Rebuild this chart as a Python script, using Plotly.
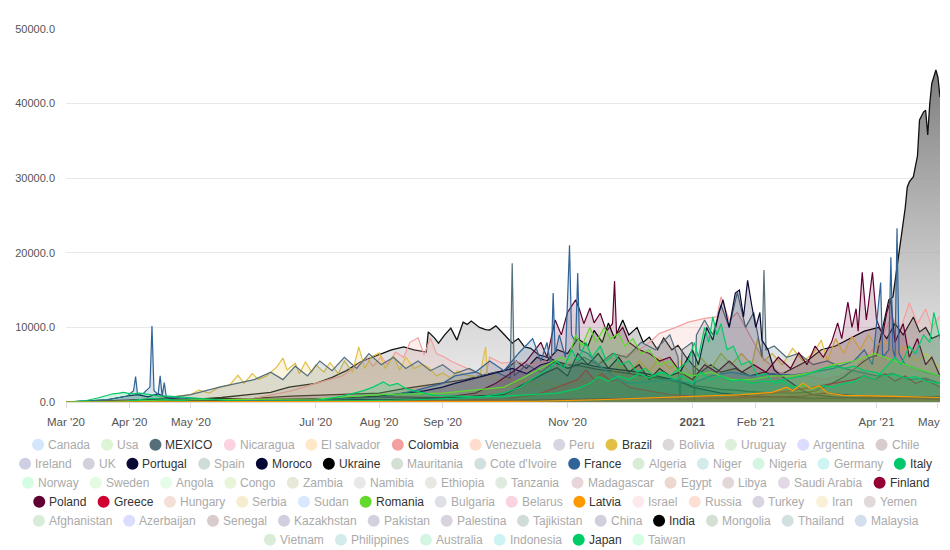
import plotly.graph_objects as go
import pandas as pd

START = pd.Timestamp("2020-03-01")

# ---- data: (day offset from 2020-03-01, daily value) ----
india = [(0,0),(15,20),(30,80),(45,200),(61,300),(76,600),(92,1000),(100,1300),(109,2000),(116,2300),(122,2500),(130,3300),(137,4200),(144,5400),(150,6000),(155,6500),(159,7000),(165,7400),(170,7000),(176,6700),(177,9400),(180,8600),(182,7900),(185,9000),(188,9900),(191,8300),(194,10700),(196,10400),(198,10850),(202,10000),(205,9700),(207,9650),(210,10200),(212,9650),(215,8700),(218,7900),(221,8500),(224,7400),(227,7200),(231,6300),(235,6000),(240,5400),(245,5000),(252,4800),(259,4400),(266,4200),(273,3900),(280,3600),(287,3300),(294,3000),(300,2600),(306,2200),(313,2000),(320,1700),(327,1600),(334,1400),(341,1300),(348,1200),(355,1200),(362,1300),(366,1500),(370,2000),(375,2600),(380,3350),(383,4000),(386,4700),(390,5500),(393,6000),(396,6200),(398,8700),(400,11400),(402,13700),(404,14100),(406,18100),(407,20400),(409,24400),(410,26000),(411,28800),(412,29500),(414,30200),(416,33000),(417,37800),(419,38900),(420,39100),(421,35800),(422,40000),(423,42700),(425,44500),(426,43500),(427,40900)]

ukraine = [(0,0),(30,50),(61,400),(92,500),(110,800),(122,900),(140,1000),(153,1200),(165,1800),(175,2200),(184,2500),(195,3000),(205,3700),(214,4200),(220,5500),(225,4500),(230,6000),(235,5500),(240,7000),(245,6500),(250,8500),(255,7500),(258,9600),(262,8000),(265,10600),(268,8500),(272,11000),(275,9000),(279,10000),(282,8000),(285,8700),(289,7000),(292,8600),(296,7000),(299,7600),(303,6000),(306,5000),(310,4000),(315,5000),(320,4000),(327,4500),(334,3500),(341,4000),(348,3500),(355,4500),(362,5500),(369,7000),(376,7500),(383,8500),(390,9500),(397,10000),(401,8500),(405,10500),(409,9000),(414,11400),(417,9400),(420,10000),(423,8500),(427,9000)]

colombia = [(0,0),(61,100),(92,500),(110,1500),(122,2500),(135,3500),(140,4500),(147,5900),(150,4800),(154,6100),(157,5000),(161,6700),(165,6000),(168,8000),(172,8600),(175,6300),(178,8600),(181,6500),(185,6000),(188,5500),(192,5000),(196,4500),(200,4000),(205,3500),(207,6000),(213,5200),(220,5400),(227,5000),(234,5500),(241,4500),(248,5500),(255,5000),(262,5500),(269,6000),(276,6500),(283,7500),(290,9200),(297,9900),(304,10700),(312,11200),(318,11400),(320,14100),(324,11000),(328,12000),(334,9000),(340,6000),(348,4000),(355,3500),(362,3500),(370,3000),(378,3500),(385,4500),(392,6500),(398,8000),(403,11400),(408,10000),(412,13300),(416,10500),(420,12500),(423,10000),(427,11500)]

brazil = [(0,0),(30,200),(45,500),(55,800),(61,1000),(65,1600),(70,1200),(75,2000),(80,2300),(84,3600),(87,2500),(91,3800),(94,3000),(98,3500),(103,4700),(106,5900),(108,4300),(112,5200),(114,3800),(117,5400),(120,4000),(122,5000),(126,4000),(129,5300),(133,3800),(136,5500),(140,4000),(143,7400),(146,4500),(149,6000),(153,6600),(156,4500),(160,6200),(163,4300),(166,6000),(170,4500),(174,5000),(177,4700),(181,3500),(184,3900),(188,3200),(191,4200),(195,3600),(198,3500),(202,3300),(205,7400),(206,3000),(209,3600),(212,2800),(216,3200),(220,2600),(225,3000),(230,2200),(235,2800),(240,2000),(245,2500),(250,3000),(255,2200),(260,4000),(265,3200),(270,5000),(275,4000),(280,5500),(285,4200),(290,6000),(295,4500),(300,5500),(306,3500),(310,6000),(315,4500),(320,6500),(325,5000),(330,6500),(335,5000),(338,8600),(341,5500),(345,6500),(350,5000),(355,7200),(360,5500),(365,6500),(369,8300),(372,5500),(376,8500),(380,6500),(384,8800),(388,7000),(392,9000),(396,7500),(400,8200),(405,6500),(410,7500),(415,5500),(420,6500),(427,4500)]

mexico = [(0,0),(31,100),(45,400),(61,1000),(75,2000),(92,3000),(100,4000),(106,3000),(112,4800),(118,3500),(124,5500),(130,4200),(136,6000),(142,4500),(148,6500),(154,5000),(160,6000),(166,4500),(172,5500),(178,4200),(184,5000),(190,3800),(197,4500),(204,3500),(210,4000),(217,3200),(218,18600),(219,3500),(225,5000),(232,4000),(239,5500),(246,4500),(253,6000),(260,5000),(267,6500),(274,6000),(281,8000),(288,7000),(295,9000),(299,6000),(300,0),(301,7000),(306,8000),(307,0),(308,9000),(312,11000),(316,9000),(320,13000),(324,10000),(328,14700),(332,10000),(336,12000),(340,6000),(341,17700),(342,7000),(346,7500),(352,6000),(358,6500),(365,5000),(372,5500),(380,4500),(388,4000),(396,3500),(404,3800),(412,3000),(420,3200),(427,2500)]

moroco = [(0,0),(61,100),(122,300),(153,800),(165,1200),(175,1500),(184,2000),(190,2500),(200,3200),(210,3900),(218,4500),(225,3800),(232,5000),(238,5400),(245,4500),(252,5200),(258,4800),(265,4500),(272,4300),(280,4000),(290,3400),(300,2800),(306,2000),(320,1200),(335,800),(350,600),(365,500),(400,600),(427,700)]

portugal = [(0,0),(20,300),(30,800),(35,1000),(40,700),(45,1100),(50,500),(61,300),(92,300),(122,400),(153,300),(184,500),(200,800),(214,1000),(221,2000),(228,3000),(235,4000),(240,4600),(245,3500),(250,6500),(255,5000),(260,6500),(265,4500),(270,6000),(275,4000),(280,5000),(285,3000),(290,4500),(295,3500),(300,4000),(306,7000),(309,5000),(313,10000),(316,8300),(319,12000),(321,13700),(324,10000),(327,14600),(329,15000),(331,11400),(333,16300),(335,13000),(337,10000),(339,12000),(340,8300),(343,7000),(346,4300),(350,3400),(355,2500),(360,1500),(365,1000),(375,700),(390,500),(410,500),(427,400)]

poland = [(0,0),(30,200),(45,400),(61,300),(92,400),(122,400),(153,700),(184,600),(200,1200),(210,2500),(218,4000),(225,5500),(232,8000),(235,6000),(239,11000),(242,9000),(245,12000),(247,12800),(249,13700),(251,12300),(253,10500),(256,12600),(258,10600),(261,11900),(264,9500),(267,10500),(268,16200),(269,9000),(272,10000),(275,8000),(280,7000),(285,6500),(290,5500),(295,6000),(300,4000),(306,3000),(312,5000),(318,4000),(324,5500),(330,4000),(336,5000),(342,4000),(348,6000),(354,4500),(358,6600),(362,5000),(366,7500),(370,6000),(374,8000),(377,10600),(379,8500),(382,13400),(384,10000),(386,12500),(387,9500),(389,17400),(391,11000),(392,13000),(394,17400),(396,11000),(399,9000),(401,12000),(403,13700),(405,8000),(409,10500),(412,6000),(416,8500),(420,5000),(423,6000),(427,3500)]

finland = [(0,0),(30,200),(61,100),(153,50),(214,200),(245,400),(275,500),(306,400),(340,600),(360,800),(370,1200),(380,1000),(395,700),(427,400)]

greece = [(0,0),(61,50),(153,100),(184,200),(214,400),(230,1000),(240,2000),(245,2500),(250,3000),(254,4300),(258,3000),(262,3800),(266,2800),(270,3000),(275,2000),(285,1500),(295,1000),(306,800),(320,600),(335,800),(345,1200),(355,1500),(365,2000),(375,2500),(385,3000),(390,3500),(395,3000),(400,3800),(405,2800),(410,3500),(415,2500),(420,3000),(427,2000)]

france = [(0,0),(20,300),(30,800),(33,1500),(34,3400),(35,900),(38,1200),(41,2000),(42,10200),(43,1500),(45,1000),(46,3500),(47,800),(48,2600),(49,700),(55,600),(61,400),(75,300),(92,200),(122,300),(153,600),(170,1500),(184,2500),(190,3500),(200,4000),(207,5500),(214,4200),(221,6500),(228,8500),(232,5500),(235,8000),(237,4500),(238,14600),(239,6500),(241,9000),(244,6000),(246,21000),(247,9000),(249,8000),(250,17300),(251,7000),(255,6500),(260,5000),(265,4000),(270,3000),(275,2500),(285,2800),(295,3000),(306,2500),(315,3500),(325,4000),(335,3500),(345,3800),(355,3600),(365,4000),(375,4500),(385,5500),(390,7000),(394,5000),(398,16000),(399,6000),(402,7000),(403,19400),(404,7000),(405,6000),(406,23300),(407,6500),(410,5000),(415,4500),(420,4000),(427,3500)]

romania = [(0,0),(61,300),(122,400),(153,1000),(184,1200),(214,2000),(225,3500),(235,5000),(242,6000),(245,5500),(249,9000),(252,7500),(256,10000),(259,8000),(263,10000),(266,8500),(270,9200),(273,7500),(277,8500),(281,6500),(285,7000),(290,5000),(295,5500),(300,4000),(306,3500),(315,4000),(325,3000),(335,3000),(345,3500),(355,3500),(365,4000),(375,5000),(385,5500),(395,6500),(405,5500),(415,4500),(427,3500)]

italy = [(0,0),(10,200),(15,500),(20,900),(23,1100),(26,1200),(28,1300),(30,1200),(33,1100),(36,1200),(40,1000),(43,900),(46,800),(50,800),(55,700),(61,500),(70,300),(80,200),(92,100),(122,100),(153,200),(170,300),(184,400),(200,600),(214,1200),(222,2000),(230,3500),(236,4500),(240,5500),(243,4500),(247,7000),(250,5500),(254,8000),(257,6000),(261,7500),(264,5500),(268,6500),(271,5000),(275,5500),(279,4000),(283,4500),(287,3500),(292,4000),(297,3000),(301,3500),(306,2500),(310,4000),(315,3000),(320,3500),(325,2800),(330,3000),(335,2500),(340,2800),(345,2700),(350,3000),(355,3300),(360,3500),(365,4000),(370,4500),(375,4800),(380,4500),(385,4800),(390,4200),(395,4000),(400,3500),(405,3700),(410,3200),(415,3400),(420,2800),(427,2500)]

japan = [(0,0),(30,100),(38,400),(42,500),(46,400),(55,200),(61,100),(92,50),(122,150),(135,800),(145,1500),(150,2000),(155,2700),(158,2200),(162,2500),(166,1800),(170,1500),(175,1200),(180,900),(190,800),(200,700),(214,800),(230,1000),(240,1200),(250,1800),(256,2500),(260,3400),(265,2800),(270,3500),(275,3000),(280,3800),(285,3200),(290,4000),(295,3500),(300,4600),(304,5500),(307,8000),(309,6000),(312,10000),(314,8000),(316,11400),(318,9000),(320,10500),(323,7000),(326,7500),(330,5000),(334,5500),(338,3500),(342,3800),(346,2500),(350,2800),(355,2000),(360,2300),(365,1800),(370,2200),(375,2000),(380,2500),(385,2700),(390,3500),(395,3000),(400,4500),(405,6000),(408,5000),(412,7500),(415,6500),(419,9000),(422,8000),(424,12000),(427,8500)]

latvia = [(0,0),(200,0),(230,100),(260,300),(290,600),(306,800),(330,1000),(345,1300),(352,2000),(355,1500),(360,2500),(364,1800),(368,2200),(372,1200),(380,900),(400,800),(427,600)]

# drawn series: name, line colour, data
drawn = [
    ("Ukraine", "#000000", ukraine),
    ("Colombia", "#f4a0a0", colombia),
    ("Brazil", "#e2bf45", brazil),
    ("MEXICO", "#546e7a", mexico),
    ("Moroco", "#050535", moroco),
    ("Portugal", "#0b0833", portugal),
    ("Poland", "#5f0030", poland),
    ("Finland", "#950034", finland),
    ("Greece", "#d00030", greece),
    ("France", "#306397", france),
    ("Romania", "#62d92b", romania),
    ("Italy", "#00c767", italy),
    ("Japan", "#00cc66", japan),
    ("Latvia", "#ff9900", latvia),
]

legend_rows = [
    ["Canada","Usa","MEXICO","Nicaragua","El salvador","Colombia","Venezuela","Peru","Brazil","Bolivia","Uruguay","Argentina","Chile"],
    ["Ireland","UK","Portugal","Spain","Moroco","Ukraine","Mauritania","Cote d'Ivoire","France","Algeria","Niger","Nigeria","Germany","Italy"],
    ["Norway","Sweden","Angola","Congo","Zambia","Namibia","Ethiopia","Tanzania","Madagascar","Egypt","Libya","Saudi Arabia","Finland"],
    ["Poland","Greece","Hungary","Serbia","Sudan","Romania","Bulgaria","Belarus","Latvia","Israel","Russia","Turkey","Iran","Yemen"],
    ["Afghanistan","Azerbaijan","Senegal","Kazakhstan","Pakistan","Palestina","Tajikistan","China","India","Mongolia","Thailand","Malaysia"],
    ["Vietnam","Philippines","Australia","Indonesia","Japan","Taiwan"],
]
legend_colors = {
    "Canada":"#d3e6fb","Usa":"#ddf4d5","MEXICO":"#546e7a","Nicaragua":"#fbd3e0","El salvador":"#ffe8c8",
    "Colombia":"#f4a0a0","Venezuela":"#ffdccc","Peru":"#d7d5e2","Brazil":"#e2bf45","Bolivia":"#dcd8d8",
    "Uruguay":"#dcf0dc","Argentina":"#dcdcff","Chile":"#d8cccc",
    "Ireland":"#cfcfe3","UK":"#d3d1de","Portugal":"#0b0833","Spain":"#cfdcd8","Moroco":"#050535","Ukraine":"#000000",
    "Mauritania":"#d3e0d3","Cote d'Ivoire":"#d3e0e0","France":"#306397","Algeria":"#d8ecd8","Niger":"#d3ebeb",
    "Nigeria":"#d3f5e2","Germany":"#cdf3f3","Italy":"#00c767",
    "Norway":"#d5fde3","Sweden":"#e3fbe0","Angola":"#e5fde8","Congo":"#e8f5d8","Zambia":"#e8e8d8","Namibia":"#e8e8e8",
    "Ethiopia":"#e8e8e0","Tanzania":"#e0ebe0","Madagascar":"#e8d5d8","Egypt":"#ecd8cf","Libya":"#e3d8d8",
    "Saudi Arabia":"#e3d8e5","Finland":"#950034",
    "Poland":"#5f0030","Greece":"#d00030","Hungary":"#f5e0d8","Serbia":"#f8ecd0","Sudan":"#d8e8ff","Romania":"#62d92b",
    "Bulgaria":"#dde0e5","Belarus":"#fad3e0","Latvia":"#ff9900","Israel":"#fde8ec","Russia":"#fde0d3","Turkey":"#d8d5e0",
    "Iran":"#faf0d8","Yemen":"#e0dada",
    "Afghanistan":"#d8ecd8","Azerbaijan":"#dcdcff","Senegal":"#d8cccc","Kazakhstan":"#cfcfe0","Pakistan":"#d3d1de",
    "Palestina":"#d8d3de","Tajikistan":"#cfdcd8","China":"#d0d0dc","India":"#000000","Mongolia":"#d3e0d3",
    "Thailand":"#d3e0e0","Malaysia":"#d3dfec",
    "Vietnam":"#d8ecd8","Philippines":"#d3ebeb","Australia":"#d3f5e2","Indonesia":"#cdf3f3","Japan":"#00cc66","Taiwan":"#d5fde3",
}
active = {"MEXICO","Colombia","Brazil","Portugal","Moroco","Ukraine","France","Italy","Finland",
          "Poland","Greece","Romania","Latvia","India","Japan"}

tick_days = [0, 31, 61, 122, 153, 184, 245, 306, 337, 396, 426]
tick_text = ["Mar '20","Apr '20","May '20","Jul '20","Aug '20","Sep '20","Nov '20","<b>2021</b>","Feb '21","Apr '21","May '21"]


def to_dates(days):
    return [START + pd.Timedelta(days=d) for d in days]


def rgba(h, a):
    h = h.lstrip("#")
    return "rgba(%d,%d,%d,%s)" % (int(h[0:2], 16), int(h[2:4], 16), int(h[4:6], 16), a)


fig = go.Figure()

d, v = zip(*india)
fig.add_trace(go.Scatter(
    x=to_dates(d), y=list(v), name="India", mode="lines",
    line=dict(color="#111111", width=1.3), fill="tozeroy",
    fillgradient=dict(type="vertical", colorscale=[[0, "rgba(225,225,225,0.6)"], [1, "rgba(110,110,110,0.9)"]]),
))
for name, col, data in drawn:
    d, v = zip(*data)
    fig.add_trace(go.Scatter(
        x=to_dates(d), y=list(v), name=name, mode="lines",
        line=dict(color=col, width=1.2), fill="tozeroy", fillcolor=rgba(col, 0.18),
    ))

# ---- manual legend (circle + text), centred rows ----
W = dict(zip("abcdefghijklmnopqrstuvwxyz",
             [556,556,500,556,556,278,556,556,222,222,500,222,833,556,556,556,556,333,500,278,556,500,722,500,500,500]))
W.update(dict(zip("ABCDEFGHIJKLMNOPQRSTUVWXYZ",
                  [667,667,722,722,667,611,778,722,278,500,667,556,833,722,778,667,778,722,667,611,722,667,944,667,667,611])))
W[" "] = 278
W["'"] = 191

# page body has an 8px margin: figure is 942x542 placed at (8, 8)
OFF = 8
FW, FH = 950 - OFF, 550 - OFF
PL, PR, PT, PB = 66 - OFF, 940 - OFF, 29 - OFF, 402 - OFF   # plot area in figure pixels


def px2paper(x, y):
    # x, y are page pixels
    x -= OFF
    y -= OFF
    return (x - PL) / (PR - PL), (PB - y) / (PB - PT)


shapes, annots = [], []
for r, row in enumerate(legend_rows):
    yc = 444.7 + 19 * r
    widths = [sum(W.get(c, 556) for c in n) * 12 / 1000 for n in row]
    total = sum(w + 27 for w in widths) - 12
    x = 475 - total / 2
    for n, w in zip(row, widths):
        cx, cy = px2paper(x + 6, yc)
        shapes.append(dict(type="circle", xref="paper", yref="paper", xsizemode="pixel", ysizemode="pixel",
                           xanchor=cx, yanchor=cy, x0=-6, x1=6, y0=-6, y1=6,
                           fillcolor=legend_colors[n], line=dict(width=0)))
        tx, ty = px2paper(x + 14, yc)
        annots.append(dict(text=n, xref="paper", yref="paper", x=tx, y=ty, xanchor="left", yanchor="middle",
                           showarrow=False, font=dict(size=12, color="#333333" if n in active else "#aaaaaa")))
        x += w + 27

fig.update_layout(
    width=FW, height=FH,
    margin=dict(l=PL, r=FW - PR, t=PT, b=FH - PB, autoexpand=False),
    paper_bgcolor="white", plot_bgcolor="white",
    font=dict(family="Liberation Sans, Arial, sans-serif", color="#555555"),
    showlegend=False,
    shapes=shapes, annotations=annots,
    xaxis=dict(
        type="date", range=[START, START + pd.Timedelta(days=427)],
        tickvals=to_dates(tick_days), ticktext=tick_text,
        showgrid=False, showline=True, linecolor="#dddddd", linewidth=1,
        ticks="outside", ticklen=5, tickcolor="#dddddd",
        tickfont=dict(size=11.5, color="#555555"), ticklabelstandoff=4,
        ticklabeloverflow="allow",
        zeroline=False, automargin=False,
    ),
    yaxis=dict(
        range=[0, 50000], dtick=10000, tickformat=".1f",
        showgrid=True, gridcolor="#e8e8e8", gridwidth=1,
        zeroline=False, showline=False, ticks="",
        tickfont=dict(size=11, color="#555555"), ticklabelstandoff=10,
        automargin=False,
    ),
)

fig.write_html("out.html", post_script="document.body.style.overflow='hidden';")
